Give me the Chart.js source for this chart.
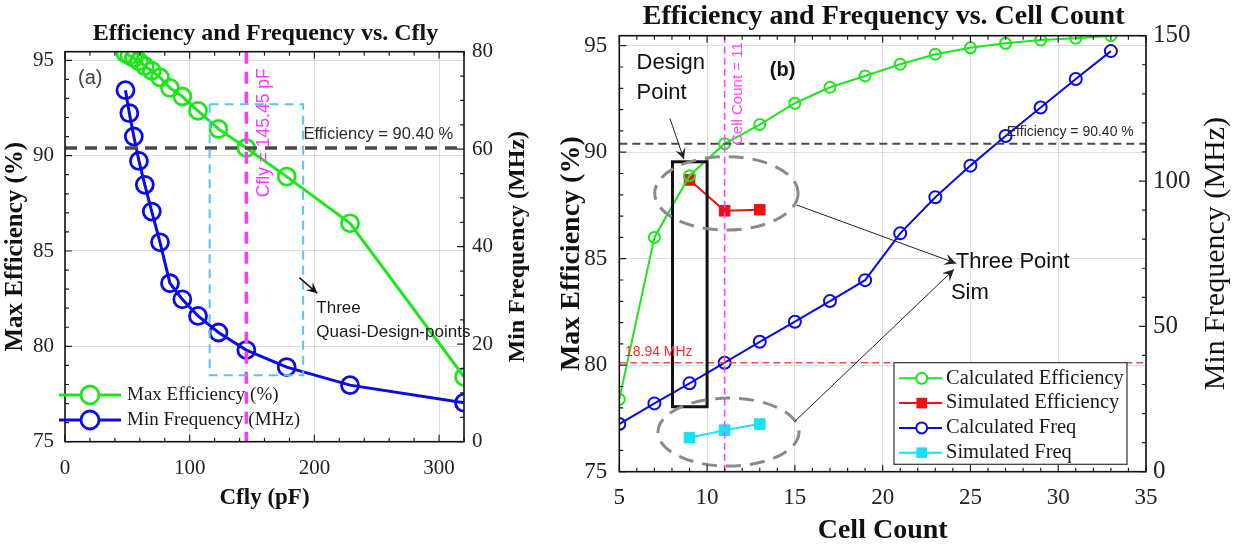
<!DOCTYPE html>
<html>
<head>
<meta charset="utf-8">
<script src="https://cdn.jsdelivr.net/npm/chart.js@4.4.1/dist/chart.umd.min.js"></script>
<style>
body { margin: 0; background: #fff; width: 1239px; height: 548px; overflow: hidden; position: relative; }
canvas { position: absolute; top: 0; }
#chart-cfly { left: 0; }
#chart-cell { left: 540px; }
</style>
</head>
<body>
<canvas id="chart-cfly" width="540" height="548"></canvas>
<canvas id="chart-cell" width="699" height="548"></canvas>
<script>
// (a) sweep of flying capacitance
const cflyValues = [48.5, 51.6, 55.2, 59.3, 64, 69.6, 76.2, 84.2, 94.1, 106.7, 123.1, 145.45, 177.8, 228.6, 320];
const cflyEfficiency = [95.35, 95.25, 95.12, 94.95, 94.7, 94.45, 94.1, 93.55, 93.1, 92.35, 91.4, 90.4, 88.9, 86.45, 78.4];
const cflyFrequency = [72.1, 67.4, 62.6, 57.6, 52.7, 47.2, 40.9, 32.5, 29.2, 25.8, 22.4, 18.8, 15.3, 11.6, 8.0];
const cflyTicks = [0, 100, 200, 300];
const cflyEffTicks = [75, 80, 85, 90, 95];

// (b) sweep of cell count
const cellCounts = [5, 7, 9, 11, 13, 15, 17, 19, 21, 23, 25, 27, 29, 31, 33];
const cellEfficiency = [78.4, 86.0, 88.9, 90.4, 91.3, 92.3, 93.05, 93.58, 94.13, 94.6, 94.9, 95.11, 95.27, 95.35, 95.47];
const cellFrequency = [16.4, 23.5, 30.4, 37.5, 44.7, 51.6, 58.7, 65.9, 82.0, 94.4, 105.3, 115.5, 125.3, 135.1, 144.7];
const simCells = [9, 11, 13];
const simEfficiency = [88.7, 87.25, 87.3];
const simFrequency = [11.7, 14.3, 16.4];
const cellEffTicks = [75, 80, 85, 90, 95];

const effTarget = 90.4;
const cflyDesign = 145.45;
const cellDesign = 11;
const freqMarker = 37.5;

const GREEN = '#1ee61e';
const BLUE = '#0b0be8';
const RED = '#f01010';
const CYAN = '#12e4f2';
const SERIF = '"Liberation Serif", "DejaVu Serif", serif';
const SANS = '"Liberation Sans", Arial, sans-serif';

function pairs(xs, ys) {
    return xs.map((v, i) => ({ x: v, y: ys[i] }));
}

function line(ctx, x1, y1, x2, y2, color, width, dash) {
    ctx.save();
    ctx.beginPath();
    ctx.strokeStyle = color;
    ctx.lineWidth = width;
    ctx.setLineDash(dash || []);
    ctx.moveTo(x1, y1);
    ctx.lineTo(x2, y2);
    ctx.stroke();
    ctx.restore();
}

function arrow(ctx, x1, y1, x2, y2, color, width, head) {
    line(ctx, x1, y1, x2, y2, color, width);
    const ang = Math.atan2(y2 - y1, x2 - x1);
    ctx.save();
    ctx.fillStyle = color;
    ctx.beginPath();
    ctx.moveTo(x2, y2);
    ctx.lineTo(x2 - head * Math.cos(ang - 0.45), y2 - head * Math.sin(ang - 0.45));
    ctx.lineTo(x2 - head * 0.55 * Math.cos(ang), y2 - head * 0.55 * Math.sin(ang));
    ctx.lineTo(x2 - head * Math.cos(ang + 0.45), y2 - head * Math.sin(ang + 0.45));
    ctx.closePath();
    ctx.fill();
    ctx.restore();
}

function label(ctx, str, x, y, font, color, align, rot) {
    ctx.save();
    ctx.translate(x, y);
    if (rot) ctx.rotate(rot);
    ctx.font = font;
    ctx.fillStyle = color;
    ctx.textAlign = align || 'left';
    ctx.textBaseline = 'middle';
    ctx.fillText(str, 0, 0);
    ctx.restore();
}

// box round the plot with inward ticks on all four sides
function frameTicks(chart, t) {
    const { ctx, chartArea: a, scales: { x, y, y1 } } = chart;
    const isMajor = (v, m) => Math.abs(v / m - Math.round(v / m)) < 1e-6;
    ctx.save();
    ctx.strokeStyle = '#222';
    ctx.lineWidth = 1.2;
    ctx.beginPath();
    for (let v = x.min; v <= x.max + 1e-6; v += t.xStep) {
        const p = x.getPixelForValue(v);
        const len = isMajor(v, t.xMajor) ? 7 : 4;
        ctx.moveTo(p, a.bottom); ctx.lineTo(p, a.bottom - len);
        ctx.moveTo(p, a.top); ctx.lineTo(p, a.top + len);
    }
    for (let v = y.min; v <= y.max + 1e-6; v += t.yStep) {
        const p = y.getPixelForValue(v);
        const len = isMajor(v, t.yMajor) ? 7 : 4;
        ctx.moveTo(a.left, p); ctx.lineTo(a.left + len, p);
    }
    for (let v = y1.min; v <= y1.max + 1e-6; v += t.y1Step) {
        const p = y1.getPixelForValue(v);
        const len = isMajor(v, t.y1Major) ? 7 : 4;
        ctx.moveTo(a.right, p); ctx.lineTo(a.right - len, p);
    }
    ctx.stroke();
    ctx.lineWidth = 1.6;
    ctx.strokeStyle = '#111';
    ctx.strokeRect(a.left, a.top, a.right - a.left, a.bottom - a.top);
    ctx.restore();
}

function legendRow(ctx, ds, x1, x2, xm, yy, tx, font, boxStyle) {
    line(ctx, x1, yy, x2, yy, ds.borderColor, ds.borderWidth);
    ctx.save();
    ctx.lineWidth = ds.pointBorderWidth;
    ctx.strokeStyle = ds.pointBorderColor || ds.borderColor;
    ctx.fillStyle = '#fff';
    if (ds.pointStyle === 'rect') {
        const s = ds.pointRadius * Math.SQRT1_2;
        ctx.fillStyle = ds.pointBackgroundColor;
        ctx.fillRect(xm - s, yy - s, 2 * s, 2 * s);
    } else {
        ctx.beginPath();
        ctx.arc(xm, yy, boxStyle, 0, Math.PI * 2);
        ctx.fill();
        ctx.stroke();
    }
    ctx.restore();
    label(ctx, ds.label, tx, yy, font, '#1a1a1a', 'left');
}

// ---------- chart (a) ----------
const cflyDecor = {
    id: 'cflyDecor',
    afterDatasetsDraw(chart) {
        const { ctx, chartArea: a, scales: { x, y } } = chart;
        const yt = y.getPixelForValue(effTarget);
        line(ctx, a.left, yt, a.right, yt, '#4a4a4a', 3.5, [12, 8]);
        const xd = x.getPixelForValue(cflyDesign);
        line(ctx, xd, a.top, xd, a.bottom, '#ff38ff', 3.5, [12, 8]);

        ctx.save();
        ctx.strokeStyle = '#5ac4ee';
        ctx.lineWidth = 2;
        ctx.setLineDash([9, 6]);
        const bx1 = x.getPixelForValue(116), bx2 = x.getPixelForValue(191);
        const by1 = y.getPixelForValue(92.69), by2 = y.getPixelForValue(78.48);
        ctx.strokeRect(bx1, by1, bx2 - bx1, by2 - by1);
        ctx.restore();

        label(ctx, '(a)', x.getPixelForValue(10.4), y.getPixelForValue(94.06), '20px ' + SANS, '#444', 'left');
        label(ctx, 'Cfly = 145.45 pF', x.getPixelForValue(160), y.getPixelForValue(87.82),
            '17.5px ' + SANS, '#ff38ff', 'left', -Math.PI / 2);
        label(ctx, 'Efficiency = 90.40 %', x.getPixelForValue(191.2), y.getPixelForValue(91.12), '16.5px ' + SANS, '#2a2a2a', 'left');
        arrow(ctx, x.getPixelForValue(188), y.getPixelForValue(83.6), x.getPixelForValue(202.4), y.getPixelForValue(82.78), '#111', 1.5, 12);
        label(ctx, 'Three', x.getPixelForValue(201.6), y.getPixelForValue(82.0), '17px ' + SANS, '#1a1a1a', 'left');
        label(ctx, 'Quasi-Design-points', x.getPixelForValue(201.6), y.getPixelForValue(80.76), '17px ' + SANS, '#1a1a1a', 'left');
    },
    afterDraw(chart) {
        const { ctx, chartArea: a, data } = chart;
        frameTicks(chart, { xStep: 20, xMajor: 100, yStep: 1, yMajor: 5, y1Step: 5, y1Major: 20 });
        label(ctx, 'Efficiency and Frequency vs. Cfly', (a.left + a.right) / 2 + 1, 34, 'bold 24px ' + SERIF, '#111', 'center');
        label(ctx, 'Min Frequency (MHz)', 518, (a.top + a.bottom) / 2, 'bold 24px ' + SERIF, '#111', 'center', -Math.PI / 2);
        data.datasets.forEach((ds, i) => {
            legendRow(ctx, ds, 59, 121, 90, 395 + i * 25, 127, '19px ' + SERIF, 9);
        });
    }
};

new Chart(document.getElementById('chart-cfly'), {
    type: 'line',
    data: {
        datasets: [
            {
                label: 'Max Efficiency (%)',
                data: pairs(cflyValues, cflyEfficiency),
                yAxisID: 'y',
                borderColor: GREEN,
                borderWidth: 3,
                pointRadius: 8.5,
                pointBorderWidth: 2.8,
                pointBackgroundColor: 'rgba(0,0,0,0)',
                pointBorderColor: GREEN,
                tension: 0,
            },
            {
                label: 'Min Frequency (MHz)',
                data: pairs(cflyValues, cflyFrequency),
                yAxisID: 'y1',
                borderColor: BLUE,
                borderWidth: 3,
                pointRadius: 8.5,
                pointBorderWidth: 2.8,
                pointBackgroundColor: 'rgba(0,0,0,0)',
                pointBorderColor: BLUE,
                tension: 0,
            },
        ],
    },
    options: {
        responsive: false,
        animation: false,
        devicePixelRatio: 1,
        layout: { padding: { top: 51.7, left: 0, right: 0, bottom: 0 } },
        plugins: { legend: { display: false }, tooltip: { enabled: false } },
        scales: {
            x: {
                type: 'linear',
                min: 0,
                max: 320,
                afterBuildTicks: (s) => { s.ticks = cflyTicks.map((v) => ({ value: v })); },
                afterFit: (s) => { s.height = 106.3; },
                grid: { color: 'rgba(0,0,0,0.13)', drawTicks: false },
                border: { display: false },
                ticks: { padding: 14, color: '#222', font: { family: SERIF, size: 21 } },
                title: { display: true, text: 'Cfly (pF)', color: '#111', font: { family: SERIF, size: 23, weight: 'bold' }, padding: { bottom: 36 } },
            },
            y: {
                position: 'left',
                min: 75,
                max: 95.45,
                afterBuildTicks: (s) => { s.ticks = cflyEffTicks.map((v) => ({ value: v })); },
                afterFit: (s) => { s.width = 65; },
                grid: { color: 'rgba(0,0,0,0.13)', drawTicks: false },
                border: { display: false },
                ticks: { padding: 11, color: '#222', font: { family: SERIF, size: 21 } },
                title: { display: true, text: 'Max Efficiency (%)', color: '#111', font: { family: SERIF, size: 25, weight: 'bold' }, padding: { top: 1 } },
            },
            y1: {
                position: 'right',
                min: 0,
                max: 80,
                ticks: { stepSize: 20, padding: 8, color: '#222', font: { family: SERIF, size: 21 } },
                afterFit: (s) => { s.width = 76; },
                grid: { drawOnChartArea: false, drawTicks: false },
                border: { display: false },
            },
        },
    },
    plugins: [cflyDecor],
});

// ---------- chart (b) ----------
const cellDecor = {
    id: 'cellDecor',
    afterDatasetsDraw(chart) {
        const { ctx, chartArea: a, scales: { x, y, y1 } } = chart;
        const px = (v) => x.getPixelForValue(v);
        const py = (v) => y.getPixelForValue(v);

        const yt = py(effTarget);
        line(ctx, a.left, yt, a.right, yt, '#4a4a4a', 2, [8, 5]);
        const yf = y1.getPixelForValue(freqMarker);
        line(ctx, a.left, yf, a.right, yf, '#f24a4a', 1.6, [7, 4]);
        const xd = px(cellDesign);
        line(ctx, xd, a.top, xd, a.bottom, '#ff44ff', 1.6, [7, 4]);

        ctx.save();
        ctx.strokeStyle = '#111';
        ctx.lineWidth = 3;
        ctx.strokeRect(px(8.03), py(89.55), px(10) - px(8.03), py(78.05) - py(89.55));
        ctx.strokeStyle = '#8a8a8a';
        ctx.setLineDash([15, 9]);
        ctx.beginPath();
        ctx.ellipse(px(11.1), py(88.07), 71.7, 36.7, 0, 0, Math.PI * 2);
        ctx.stroke();
        ctx.beginPath();
        ctx.ellipse(px(11.22), py(76.86), 70.5, 34, 0, 0, Math.PI * 2);
        ctx.stroke();
        ctx.restore();

        arrow(ctx, px(15.11), py(87.52), px(24.19), py(84.78), '#222', 1, 13);
        arrow(ctx, px(14.98), py(77.35), px(24.07), py(84.5), '#222', 1, 13);
        arrow(ctx, px(7.88), py(91.59), px(8.68), py(89.67), '#222', 1, 12);

        label(ctx, 'Design', px(5.98), py(94.17), '22px ' + SANS, '#111', 'left');
        label(ctx, 'Point', px(5.98), py(92.77), '22px ' + SANS, '#111', 'left');
        label(ctx, '(b)', px(14.3), py(93.86), 'bold 20px ' + SANS, '#111', 'center');
        label(ctx, 'Cell Count = 11', px(11.76), py(90.34), '15px ' + SANS, '#ff44ff', 'left', -Math.PI / 2);
        label(ctx, 'Efficiency = 90.40 %', px(27.07), py(90.96), '14px ' + SANS, '#2a2a2a', 'left');
        label(ctx, '18.94 MHz', px(5.32), py(80.63), '14px ' + SANS, '#f03030', 'left');
        label(ctx, 'Three Point', px(24.17), py(84.86), '22px ' + SANS, '#111', 'left');
        label(ctx, 'Sim', px(23.89), py(83.37), '22px ' + SANS, '#111', 'left');
    },
    afterDraw(chart) {
        const { ctx, chartArea: a, data } = chart;
        frameTicks(chart, { xStep: 1, xMajor: 5, yStep: 1, yMajor: 5, y1Step: 10, y1Major: 50 });
        label(ctx, 'Efficiency and Frequency vs. Cell Count', (a.left + a.right) / 2 + 1, 17, 'bold 28px ' + SERIF, '#111', 'center');
        label(ctx, 'Min Frequency (MHz)', 676, (a.top + a.bottom) / 2, '30px ' + SERIF, '#111', 'center', -Math.PI / 2);

        ctx.save();
        ctx.fillStyle = '#fff';
        ctx.fillRect(354, 362.7, 233, 101.6);
        ctx.strokeStyle = '#333';
        ctx.lineWidth = 1.2;
        ctx.strokeRect(354, 362.7, 233, 101.6);
        ctx.restore();
        const order = [0, 1, 2, 3];
        order.forEach((k, i) => {
            legendRow(ctx, data.datasets[k], 359, 402, 381.7, 378.3 + i * 24.8, 406, '20.5px ' + SERIF, 5.5);
        });
    }
};

new Chart(document.getElementById('chart-cell'), {
    type: 'line',
    data: {
        datasets: [
            {
                label: 'Calculated Efficiency',
                data: pairs(cellCounts, cellEfficiency),
                yAxisID: 'y',
                borderColor: GREEN,
                borderWidth: 2,
                pointRadius: 5.5,
                pointBorderWidth: 2,
                pointBackgroundColor: 'rgba(0,0,0,0)',
                pointBorderColor: GREEN,
                tension: 0,
            },
            {
                label: 'Simulated Efficiency',
                data: pairs(simCells, simEfficiency),
                yAxisID: 'y',
                borderColor: RED,
                borderWidth: 2,
                pointStyle: 'rect',
                pointRadius: 7.5,
                pointBorderWidth: 1,
                pointBackgroundColor: RED,
                pointBorderColor: RED,
                tension: 0,
            },
            {
                label: 'Calculated Freq',
                data: pairs(cellCounts, cellFrequency),
                yAxisID: 'y1',
                borderColor: BLUE,
                borderWidth: 2,
                pointRadius: 6,
                pointBorderWidth: 2,
                pointBackgroundColor: 'rgba(0,0,0,0)',
                pointBorderColor: BLUE,
                tension: 0,
            },
            {
                label: 'Simulated Freq',
                data: pairs(simCells, simFrequency),
                yAxisID: 'y1',
                borderColor: CYAN,
                borderWidth: 2,
                pointStyle: 'rect',
                pointRadius: 7.5,
                pointBorderWidth: 1,
                pointBackgroundColor: CYAN,
                pointBorderColor: CYAN,
                tension: 0,
            },
        ],
    },
    options: {
        responsive: false,
        animation: false,
        devicePixelRatio: 1,
        layout: { padding: { top: 35.7, left: 0, right: 0, bottom: 0 } },
        plugins: { legend: { display: false }, tooltip: { enabled: false } },
        scales: {
            x: {
                type: 'linear',
                min: 5,
                max: 35,
                ticks: { stepSize: 5, padding: 12, color: '#222', font: { family: SERIF, size: 23 } },
                afterFit: (s) => { s.height = 76.3; },
                grid: { color: 'rgba(0,0,0,0.13)', drawTicks: false },
                border: { display: false },
                title: { display: true, text: 'Cell Count', color: '#111', font: { family: SERIF, size: 28, weight: 'bold' }, padding: { bottom: 0 } },
            },
            y: {
                position: 'left',
                min: 75,
                max: 95.47,
                afterBuildTicks: (s) => { s.ticks = cellEffTicks.map((v) => ({ value: v })); },
                afterFit: (s) => { s.width = 79.3; },
                grid: { color: 'rgba(0,0,0,0.13)', drawTicks: false },
                border: { display: false },
                ticks: { padding: 12, color: '#222', font: { family: SERIF, size: 23 } },
                title: { display: true, text: 'Max Efficiency (%)', color: '#111', font: { family: SERIF, size: 28, weight: 'bold' }, padding: { top: 15 } },
            },
            y1: {
                position: 'right',
                min: 0,
                max: 150,
                ticks: { stepSize: 50, padding: 7, color: '#222', font: { family: SERIF, size: 25 } },
                afterFit: (s) => { s.width = 93; },
                grid: { drawOnChartArea: false, drawTicks: false },
                border: { display: false },
            },
        },
    },
    plugins: [cellDecor],
});
</script>
</body>
</html>
